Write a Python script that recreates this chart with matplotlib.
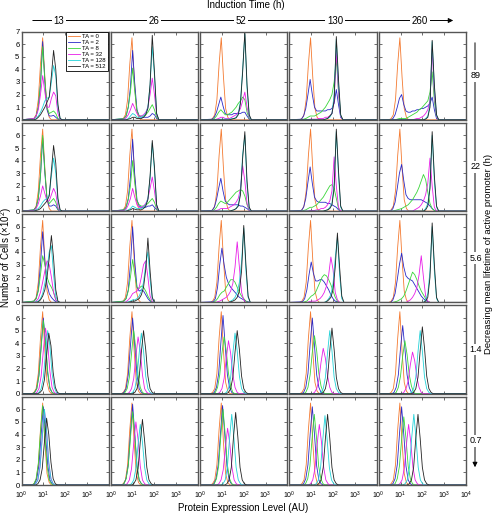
import numpy as np
import matplotlib
matplotlib.use('Agg')
import matplotlib.pyplot as plt
from matplotlib.patches import FancyArrowPatch
from matplotlib.ticker import NullLocator

plt.rcParams['font.family'] = ['Liberation Sans', 'DejaVu Sans']
plt.rcParams['mathtext.fontset'] = 'custom'
plt.rcParams['mathtext.rm'] = 'Liberation Sans'

# ---- data ----
induction_times = ['13', '26', '52', '130', '260']
lifetimes = ['89', '22', '5.6', '1.4', '0.7']
ta_labels = ['TA = 0', 'TA = 2', 'TA = 8', 'TA = 32', 'TA = 128', 'TA = 512']
xtick_labels = ['$10^{0}$', '$10^{1}$', '$10^{2}$', '$10^{3}$', '$10^{4}$']

# each curve: (log10 of first point, counts every 0.1 decade), panels row by row
STEP = 0.1
ta0 = (0.47, [0, 0.1, 0.4, 1.6, 4.4, 6.5, 3.4, 0.9, 0.2, 0])

ta2 = [
    (0.57, [0.1, 0.3, 1.0, 2.8, 6.2, 3.0, 0.8, 0.3, 0.3, 0.35, 0.2, 0.05, 0]),
    (0.6, [0.1, 0.3, 1.0, 2.6, 5.5, 2.8, 0.8, 0.3, 0.2, 0.2, 0.2, 0.2, 0.3, 0.5, 0.4, 0.1, 0]),
    (0.55, [0.05, 0.2, 0.6, 1.2, 1.8, 1.1, 0.5, 0.4, 0.4, 0.4, 0.5, 0.5, 0.5, 0.5, 0.6, 0.6, 0.3, 0.05, 0]),
    (0.55, [0.05, 0.3, 0.9, 2.0, 3.2, 2.0, 1.0, 0.7, 0.7, 0.7, 0.7, 0.7, 0.8, 0.8, 0.9, 1.3, 2.4, 1.2, 0.2, 0]),
    (0.55, [0, 0.1, 0.4, 1.0, 1.7, 2.0, 1.2, 0.7, 0.6, 0.6, 0.7, 0.7, 0.8, 0.8, 0.9, 0.9, 1.0, 1.1, 1.3, 1.8, 0.8, 0.1, 0]),
    (0.57, [0.1, 0.3, 1.0, 2.8, 5.8, 3.0, 0.9, 0.4, 0.4, 0.5, 0.4, 0.1, 0]),
    (0.6, [0.1, 0.3, 1.0, 2.7, 5.7, 2.8, 0.9, 0.4, 0.3, 0.3, 0.3, 0.4, 0.4, 0.5, 0.3, 0.1, 0]),
    (0.55, [0.05, 0.3, 0.9, 1.8, 2.6, 1.6, 0.8, 0.6, 0.5, 0.5, 0.5, 0.5, 0.5, 0.4, 0.4, 0.3, 0.2, 0.05, 0]),
    (0.55, [0.05, 0.3, 1.0, 2.3, 3.5, 2.2, 1.1, 0.8, 0.7, 0.7, 0.7, 0.7, 0.6, 0.6, 0.5, 0.4, 0.3, 0.1, 0]),
    (0.55, [0, 0.2, 0.7, 1.8, 3.0, 3.7, 2.4, 1.3, 1.0, 0.9, 0.9, 0.9, 0.9, 0.9, 0.9, 0.8, 0.7, 0.6, 0.4, 0.2, 0.05, 0]),
    (0.57, [0.1, 0.3, 1.0, 3.0, 5.6, 3.3, 1.4, 0.7, 0.4, 0.2, 0.05, 0]),
    (0.6, [0.1, 0.3, 1.0, 3.0, 6.0, 3.2, 1.2, 0.9, 1.0, 0.9, 0.6, 0.3, 0.1, 0]),
    (0.6, [0.05, 0.3, 1.2, 3.0, 4.3, 3.0, 2.0, 1.5, 1.2, 1.0, 0.8, 0.6, 0.4, 0.3, 0.2, 0.1, 0.05, 0]),
    (0.6, [0.05, 0.3, 1.0, 2.2, 3.2, 2.3, 1.7, 1.7, 1.8, 1.8, 1.6, 1.3, 1.0, 0.6, 0.3, 0.1, 0.05, 0]),
    (0.55, [0, 0.2, 0.7, 1.8, 3.0, 3.9, 2.8, 2.1, 1.9, 1.8, 1.7, 1.4, 1.1, 0.8, 0.5, 0.3, 0.15, 0.05, 0]),
    (0.5, [0, 0.1, 0.4, 1.5, 3.8, 6.0, 4.0, 1.6, 0.4, 0.1, 0]),
    (0.5, [0, 0.1, 0.4, 1.5, 3.8, 6.0, 3.8, 1.5, 0.4, 0.1, 0]),
    (0.55, [0, 0.1, 0.5, 1.6, 4.0, 6.2, 3.8, 1.5, 0.5, 0.1, 0]),
    (0.55, [0, 0.1, 0.5, 1.6, 3.9, 6.0, 3.8, 1.5, 0.5, 0.1, 0]),
    (0.6, [0, 0.1, 0.5, 1.5, 3.6, 5.4, 3.6, 1.5, 0.5, 0.1, 0]),
    (0.5, [0, 0.1, 0.5, 1.6, 4.0, 6.2, 4.0, 1.6, 0.4, 0.1, 0]),
    (0.5, [0, 0.1, 0.5, 1.6, 4.1, 6.4, 4.0, 1.5, 0.4, 0.1, 0]),
    (0.53, [0, 0.1, 0.5, 1.6, 4.0, 6.3, 4.0, 1.5, 0.4, 0.1, 0]),
    (0.55, [0, 0.1, 0.5, 1.6, 4.0, 6.2, 4.0, 1.5, 0.4, 0.1, 0]),
    (0.55, [0, 0.1, 0.5, 1.6, 4.0, 6.2, 4.0, 1.5, 0.4, 0.1, 0]),
]

ta8 = [
    (0.57, [0.1, 0.3, 1.0, 2.8, 5.8, 3.2, 1.0, 0.5, 0.6, 0.7, 0.5, 0.1, 0]),
    (0.6, [0.1, 0.3, 1.0, 2.2, 4.1, 2.2, 0.7, 0.3, 0.3, 0.3, 0.4, 0.6, 0.9, 1.2, 0.8, 0.2, 0]),
    (0.55, [0, 0.1, 0.3, 0.6, 0.8, 0.6, 0.4, 0.4, 0.5, 0.6, 0.8, 1.0, 1.3, 1.5, 1.8, 1.6, 0.6, 0.1, 0]),
    (0.55, [0, 0.05, 0.1, 0.2, 0.3, 0.3, 0.3, 0.4, 0.5, 0.6, 0.8, 1.0, 1.3, 1.6, 2.0, 3.0, 4.8, 2.2, 0.3, 0]),
    (0.55, [0, 0, 0, 0.05, 0.1, 0.1, 0.1, 0.1, 0.2, 0.3, 0.4, 0.5, 0.6, 0.8, 0.9, 1.1, 1.3, 1.5, 2.2, 3.8, 1.5, 0.2, 0]),
    (0.57, [0.1, 0.3, 1.0, 2.8, 6.0, 3.2, 1.0, 0.6, 0.8, 1.0, 0.7, 0.15, 0]),
    (0.6, [0.1, 0.3, 0.9, 2.0, 4.0, 2.2, 0.8, 0.5, 0.4, 0.4, 0.5, 0.6, 0.8, 1.0, 0.7, 0.15, 0]),
    (0.55, [0, 0.1, 0.3, 0.6, 0.8, 0.7, 0.6, 0.7, 0.9, 1.1, 1.3, 1.5, 1.6, 1.7, 1.6, 1.2, 0.5, 0.1, 0]),
    (0.55, [0, 0.05, 0.1, 0.2, 0.3, 0.3, 0.4, 0.5, 0.7, 0.9, 1.1, 1.4, 1.7, 2.0, 2.1, 1.8, 1.0, 0.2, 0]),
    (0.55, [0, 0, 0.05, 0.1, 0.15, 0.2, 0.3, 0.4, 0.5, 0.7, 0.9, 1.2, 1.5, 1.9, 2.4, 2.9, 2.5, 1.5, 0.6, 0.2, 0.05, 0]),
    (0.57, [0.1, 0.3, 0.9, 2.2, 3.7, 3.0, 2.0, 1.5, 1.2, 0.8, 0.2, 0]),
    (0.6, [0.1, 0.3, 0.9, 2.0, 3.4, 2.2, 1.2, 1.1, 1.3, 1.2, 0.9, 0.5, 0.2, 0]),
    (0.6, [0, 0.1, 0.3, 0.6, 0.8, 0.9, 1.2, 1.5, 1.8, 1.8, 1.6, 1.2, 0.8, 0.5, 0.3, 0.1, 0]),
    (0.6, [0, 0.05, 0.1, 0.3, 0.5, 0.6, 0.8, 1.2, 1.6, 2.0, 2.2, 2.1, 1.8, 1.4, 0.9, 0.4, 0.1, 0]),
    (0.55, [0, 0, 0.05, 0.1, 0.2, 0.3, 0.5, 0.9, 1.4, 1.9, 2.4, 2.2, 1.8, 1.3, 0.9, 0.6, 0.3, 0.1, 0]),
    (0.5, [0, 0.1, 0.4, 1.4, 3.6, 5.8, 4.2, 1.8, 0.5, 0.1, 0]),
    (0.55, [0, 0.1, 0.4, 1.3, 3.2, 5.0, 3.5, 1.5, 0.5, 0.1, 0]),
    (0.6, [0, 0.1, 0.5, 1.5, 3.2, 4.5, 3.4, 1.6, 0.6, 0.1, 0]),
    (0.65, [0, 0.1, 0.5, 1.5, 3.3, 4.6, 3.4, 1.6, 0.6, 0.1, 0]),
    (0.7, [0, 0.1, 0.5, 1.4, 3.0, 4.2, 3.1, 1.5, 0.6, 0.1, 0]),
    (0.47, [0, 0.1, 0.5, 1.7, 4.2, 6.3, 4.0, 1.5, 0.4, 0.1, 0]),
    (0.5, [0, 0.1, 0.5, 1.5, 3.7, 5.8, 3.9, 1.5, 0.4, 0.1, 0]),
    (0.55, [0, 0.1, 0.5, 1.5, 3.9, 6.0, 4.0, 1.6, 0.5, 0.1, 0]),
    (0.64, [0, 0.1, 0.5, 1.5, 3.7, 5.6, 3.8, 1.5, 0.5, 0.1, 0]),
    (0.65, [0, 0.1, 0.5, 1.5, 3.6, 5.4, 3.7, 1.5, 0.5, 0.1, 0]),
]

ta32 = [
    (0.57, [0.1, 0.3, 0.8, 2.0, 3.5, 2.2, 1.0, 1.0, 1.7, 2.2, 1.9, 0.5, 0]),
    (0.6, [0.05, 0.15, 0.4, 0.8, 1.3, 0.9, 0.5, 0.3, 0.3, 0.4, 0.6, 1.0, 2.0, 3.3, 2.0, 0.4, 0]),
    (0.55, [0, 0, 0.05, 0.1, 0.2, 0.2, 0.1, 0.1, 0.1, 0.2, 0.3, 0.4, 0.6, 0.9, 1.5, 2.2, 1.0, 0.2, 0]),
    (0.55, [0, 0, 0, 0, 0.05, 0.05, 0.05, 0.05, 0.1, 0.1, 0.1, 0.2, 0.2, 0.3, 0.5, 1.5, 5.5, 2.2, 0.2, 0]),
    (1.55, [0, 0.05, 0.1, 0.1, 0.2, 0.3, 0.5, 0.8, 1.5, 5.6, 2.0, 0.2, 0]),
    (0.57, [0.05, 0.2, 0.6, 1.2, 2.0, 1.4, 0.8, 0.8, 1.3, 1.8, 1.4, 0.3, 0]),
    (0.6, [0.05, 0.15, 0.5, 1.0, 1.8, 1.1, 0.5, 0.3, 0.3, 0.4, 0.6, 1.0, 1.8, 2.7, 1.6, 0.3, 0]),
    (0.55, [0, 0, 0.05, 0.1, 0.2, 0.2, 0.2, 0.2, 0.3, 0.4, 0.5, 0.7, 1.0, 1.8, 3.6, 2.4, 0.6, 0.1, 0]),
    (0.55, [0, 0, 0, 0, 0.05, 0.05, 0.05, 0.1, 0.1, 0.2, 0.2, 0.3, 0.5, 0.8, 1.6, 4.3, 2.0, 0.3, 0]),
    (1.55, [0, 0.1, 0.2, 0.3, 0.5, 0.8, 1.3, 2.2, 4.2, 2.0, 0.3, 0]),
    (0.57, [0, 0.1, 0.3, 0.8, 1.6, 2.5, 3.3, 3.0, 2.0, 0.8, 0.2, 0]),
    (0.6, [0, 0.05, 0.2, 0.4, 0.7, 0.8, 0.9, 1.2, 2.0, 3.0, 3.3, 2.0, 0.5, 0.05, 0]),
    (0.6, [0, 0, 0.05, 0.1, 0.2, 0.3, 0.4, 0.6, 0.9, 1.5, 2.8, 4.8, 2.8, 0.8, 0.2, 0]),
    (0.6, [0, 0, 0, 0.05, 0.1, 0.1, 0.1, 0.2, 0.3, 0.5, 0.8, 1.3, 2.2, 3.6, 2.6, 0.8, 0.2, 0]),
    (1.25, [0, 0.1, 0.2, 0.4, 0.7, 1.2, 2.2, 3.7, 2.0, 0.5, 0.1, 0]),
    (0.6, [0, 0.1, 0.4, 1.4, 3.4, 5.2, 4.0, 1.8, 0.5, 0.1, 0]),
    (0.75, [0, 0.1, 0.4, 1.2, 3.0, 4.5, 3.4, 1.5, 0.4, 0.1, 0]),
    (0.8, [0, 0.1, 0.4, 1.2, 2.8, 4.2, 3.2, 1.5, 0.5, 0.1, 0]),
    (1.05, [0, 0.1, 0.4, 1.1, 2.5, 3.6, 2.8, 1.4, 0.5, 0.1, 0]),
    (1.05, [0, 0.1, 0.4, 1.0, 2.3, 3.3, 2.6, 1.3, 0.5, 0.1, 0]),
    (0.55, [0, 0.1, 0.4, 1.5, 3.8, 6.0, 4.2, 1.7, 0.5, 0.1, 0]),
    (0.65, [0, 0.1, 0.4, 1.3, 3.3, 5.0, 3.6, 1.5, 0.4, 0.1, 0]),
    (0.76, [0, 0.1, 0.4, 1.2, 3.0, 4.5, 3.3, 1.4, 0.4, 0.1, 0]),
    (0.87, [0, 0.1, 0.4, 1.3, 3.2, 4.8, 3.4, 1.4, 0.4, 0.1, 0]),
    (0.87, [0, 0.1, 0.4, 1.3, 3.2, 4.8, 3.4, 1.4, 0.4, 0.1, 0]),
]

ta128 = [
    (0.57, [0, 0.1, 0.3, 0.6, 1.0, 1.5, 1.7, 1.8, 3.0, 4.3, 3.5, 1.0, 0.1, 0]),
    (0.6, [0, 0, 0.1, 0.3, 0.5, 0.4, 0.2, 0.2, 0.2, 0.3, 0.5, 1.0, 2.8, 5.8, 3.5, 0.5, 0]),
    (0.55, [0, 0, 0, 0, 0.05, 0.05, 0.05, 0.05, 0.05, 0.1, 0.1, 0.2, 0.5, 1.5, 4.0, 6.8, 2.5, 0.3, 0]),
    (1.55, [0, 0.05, 0.1, 0.2, 0.5, 2.0, 6.4, 2.8, 0.3, 0]),
    (2.05, [0, 0.1, 0.3, 1.2, 6.2, 2.5, 0.3, 0]),
    (0.57, [0, 0.1, 0.2, 0.4, 0.7, 0.9, 1.0, 1.3, 2.8, 4.2, 3.0, 0.8, 0.05, 0]),
    (0.6, [0, 0, 0.1, 0.2, 0.4, 0.3, 0.2, 0.2, 0.2, 0.3, 0.5, 1.0, 2.6, 5.4, 3.2, 0.5, 0]),
    (1.35, [0, 0.05, 0.1, 0.2, 0.5, 1.5, 4.5, 6.0, 2.0, 0.2, 0]),
    (1.55, [0, 0.05, 0.1, 0.3, 0.6, 2.2, 6.3, 2.8, 0.3, 0]),
    (2.05, [0, 0.2, 0.6, 2.0, 6.0, 2.4, 0.3, 0]),
    (0.57, [0, 0.05, 0.1, 0.3, 0.7, 1.5, 2.6, 4.0, 4.5, 2.2, 0.5, 0.05, 0]),
    (0.6, [0, 0, 0.05, 0.1, 0.2, 0.2, 0.3, 0.5, 0.9, 1.6, 3.0, 4.0, 1.8, 0.3, 0]),
    (1.3, [0, 0.1, 0.2, 0.4, 0.8, 1.6, 3.2, 5.9, 2.5, 0.4, 0]),
    (1.6, [0, 0.1, 0.3, 0.6, 1.5, 3.5, 5.2, 2.2, 0.3, 0]),
    (2.05, [0, 0.2, 0.7, 2.5, 6.0, 2.5, 0.3, 0]),
    (0.7, [0, 0.1, 0.4, 1.3, 3.2, 5.0, 3.8, 1.6, 0.5, 0.1, 0]),
    (0.9, [0, 0.1, 0.4, 1.3, 3.2, 4.8, 3.4, 1.4, 0.4, 0.1, 0]),
    (1.1, [0, 0.1, 0.4, 1.3, 3.2, 4.8, 3.4, 1.4, 0.4, 0.1, 0]),
    (1.35, [0, 0.1, 0.4, 1.3, 3.3, 5.0, 3.4, 1.3, 0.4, 0.1, 0]),
    (1.4, [0, 0.1, 0.4, 1.3, 3.3, 5.0, 3.4, 1.3, 0.4, 0.1, 0]),
    (0.55, [0, 0.1, 0.4, 1.4, 3.7, 6.0, 4.3, 1.8, 0.5, 0.1, 0]),
    (0.85, [0, 0.1, 0.4, 1.3, 3.2, 4.8, 3.4, 1.4, 0.4, 0.1, 0]),
    (0.95, [0, 0.1, 0.4, 1.4, 3.7, 5.6, 3.7, 1.4, 0.4, 0.1, 0]),
    (1.13, [0, 0.1, 0.4, 1.4, 3.6, 5.5, 3.6, 1.4, 0.4, 0.1, 0]),
    (1.11, [0, 0.1, 0.4, 1.4, 3.7, 5.6, 3.7, 1.4, 0.4, 0.1, 0]),
]

ta512 = [
    (0.57, [0, 0.05, 0.2, 0.4, 0.7, 1.0, 1.4, 1.8, 3.5, 5.5, 4.0, 1.2, 0.1, 0]),
    (0.6, [0, 0, 0.05, 0.1, 0.2, 0.2, 0.1, 0.1, 0.1, 0.2, 0.4, 0.9, 2.8, 6.7, 3.8, 0.5, 0]),
    (0.55, [0, 0, 0, 0, 0, 0, 0, 0, 0, 0.05, 0.1, 0.15, 0.4, 1.3, 3.8, 7.0, 2.8, 0.4, 0]),
    (1.55, [0, 0.05, 0.1, 0.3, 0.5, 1.5, 6.6, 3.2, 0.4, 0]),
    (2.05, [0, 0.05, 0.2, 1.0, 6.3, 2.8, 0.4, 0]),
    (0.57, [0, 0.05, 0.1, 0.2, 0.4, 0.6, 0.8, 1.2, 3.2, 5.2, 3.8, 1.0, 0.1, 0]),
    (0.6, [0, 0, 0.05, 0.1, 0.2, 0.15, 0.1, 0.1, 0.1, 0.2, 0.4, 0.9, 2.8, 5.6, 3.5, 0.5, 0]),
    (1.35, [0, 0.05, 0.1, 0.2, 0.4, 1.3, 4.2, 6.3, 2.4, 0.3, 0]),
    (1.55, [0, 0.05, 0.1, 0.2, 0.5, 1.8, 6.5, 3.2, 0.4, 0]),
    (2.05, [0, 0.1, 0.4, 1.8, 6.3, 2.8, 0.4, 0]),
    (0.57, [0, 0, 0.05, 0.2, 0.5, 1.0, 2.0, 3.5, 5.3, 3.5, 1.0, 0.1, 0]),
    (0.6, [0, 0, 0, 0.05, 0.1, 0.1, 0.2, 0.3, 0.6, 1.2, 2.6, 5.1, 2.5, 0.4, 0]),
    (1.3, [0, 0.05, 0.1, 0.2, 0.4, 0.9, 2.5, 6.1, 3.0, 0.5, 0]),
    (1.6, [0, 0.05, 0.2, 0.4, 1.0, 2.8, 5.5, 2.8, 0.5, 0]),
    (2.05, [0, 0.1, 0.4, 2.0, 6.3, 3.0, 0.4, 0]),
    (0.75, [0, 0.1, 0.3, 1.1, 3.0, 4.8, 3.8, 1.7, 0.5, 0.1, 0]),
    (1.0, [0, 0.1, 0.4, 1.3, 3.3, 5.0, 3.5, 1.4, 0.4, 0.1, 0]),
    (1.2, [0, 0.1, 0.4, 1.3, 3.3, 5.0, 3.5, 1.4, 0.4, 0.1, 0]),
    (1.45, [0, 0.1, 0.4, 1.3, 3.4, 5.2, 3.5, 1.3, 0.4, 0.1, 0]),
    (1.5, [0, 0.1, 0.4, 1.3, 3.4, 5.3, 3.6, 1.4, 0.4, 0.1, 0]),
    (0.65, [0, 0.1, 0.4, 1.3, 3.4, 5.3, 4.0, 1.8, 0.5, 0.1, 0]),
    (0.95, [0, 0.1, 0.4, 1.3, 3.4, 5.2, 3.5, 1.4, 0.4, 0.1, 0]),
    (1.13, [0, 0.1, 0.4, 1.4, 3.8, 5.75, 3.8, 1.4, 0.4, 0.1, 0]),
    (1.25, [0, 0.1, 0.4, 1.4, 3.7, 5.6, 3.7, 1.4, 0.4, 0.1, 0]),
    (1.3, [0, 0.1, 0.4, 1.4, 3.7, 5.6, 3.7, 1.4, 0.4, 0.1, 0]),
]

colors = ['#f47a30', '#2a2ac8', '#3ad63a', '#e81ee8', '#22d2d8', '#222222']

# ---- layout (pixels of a 492x514 figure) ----
W, H = 492, 514
left0, col_pitch, ax_w = 21.5, 89.3, 87.3
top0, row_pitch, ax_h = 31.5, 91.3, 88.3


def fx(x):
    return x / W


def fy(y):
    return 1 - y / H


def curve(entry):
    start, vals = entry
    L = start + STEP * np.arange(len(vals))
    x = np.concatenate([[1.0], 10 ** L, [1e4]])
    y = np.concatenate([[0.0], vals, [0.0]])
    return x, y


fig = plt.figure(figsize=(W / 100, H / 100), dpi=100)

series = [ta2, ta8, ta32, ta128, ta512]
for r in range(5):
    for c in range(5):
        i = r * 5 + c
        ax = fig.add_axes([fx(left0 + c * col_pitch), fy(top0 + r * row_pitch + ax_h),
                           fx(ax_w), ax_h / H])
        x, y = curve(ta0)
        ax.plot(x, y, color=colors[0], lw=0.6, label=ta_labels[0])
        for k, s in enumerate(series):
            x, y = curve(s[i])
            ax.plot(x, y, color=colors[k + 1], lw=0.6, label=ta_labels[k + 1])
        ax.set_xscale('log')
        ax.set_xlim(1, 1e4)
        ax.set_ylim(0, 7)
        ax.set_xticks([1, 10, 100, 1000, 1e4])
        ax.xaxis.set_minor_locator(NullLocator())
        ax.set_yticks(range(8))
        ax.tick_params(direction='in', length=2, width=0.5, top=True, right=True,
                       labelsize=5.5, pad=1.5, colors='#333333', labelcolor='black')
        ax.tick_params(axis='x', pad=3.5)
        if c == 0:
            ax.set_yticklabels([str(v) for v in range(7)] + (['7'] if r == 0 else ['']))
        else:
            ax.set_yticklabels([])
        if r == 4:
            labs = xtick_labels if c == 4 else xtick_labels[:4] + ['']
            ax.set_xticklabels(labs, fontsize=5)
        else:
            ax.set_xticklabels([])
        for sp in ax.spines.values():
            sp.set_color('#555555')
            sp.set_linewidth(1.0)
        if i == 0:
            leg = ax.legend(loc='upper right', fontsize=4.3, frameon=True, fancybox=False,
                            edgecolor='black', framealpha=1, borderaxespad=0.15,
                            handlelength=2.0, labelspacing=0.12, borderpad=0.3,
                            handletextpad=0.5)
            leg.get_frame().set_linewidth(0.6)

# ---- annotations around the grid ----
fig.text(fx(246), fy(5), 'Induction Time (h)', ha='center', va='center', fontsize=7)
fig.add_artist(FancyArrowPatch((fx(30), fy(20.5)), (fx(456), fy(20.5)), transform=fig.transFigure,
                               arrowstyle='-|>', mutation_scale=7, lw=0.7, color='black'))
for xpos, lab in zip([59, 154, 241, 335, 420], induction_times):
    fig.text(fx(xpos), fy(20.5), lab, ha='center', va='center', fontsize=7,
             bbox=dict(facecolor='white', edgecolor='none', pad=1.5))

fig.add_artist(FancyArrowPatch((fx(475), fy(40)), (fx(475), fy(470)), transform=fig.transFigure,
                               arrowstyle='-|>', mutation_scale=7, lw=0.7, color='black'))
for r, lab in enumerate(lifetimes):
    fig.text(fx(475.5), fy(top0 + r * row_pitch + ax_h / 2), lab, ha='center', va='center',
             fontsize=6.5, bbox=dict(facecolor='white', edgecolor='none', pad=1.0))

fig.text(fx(488.5), fy(254), 'Decreasing mean lifetime of active promoter (h)', rotation=90,
         ha='center', va='center', fontsize=6.8)
fig.text(fx(6.5), fy(257), 'Number of Cells (×10$^{2}$)', rotation=90,
         ha='center', va='center', fontsize=7)
fig.text(fx(243.5), fy(508), 'Protein Expression Level (AU)', ha='center', va='center', fontsize=7)

fig.savefig('out.png', dpi=100)
